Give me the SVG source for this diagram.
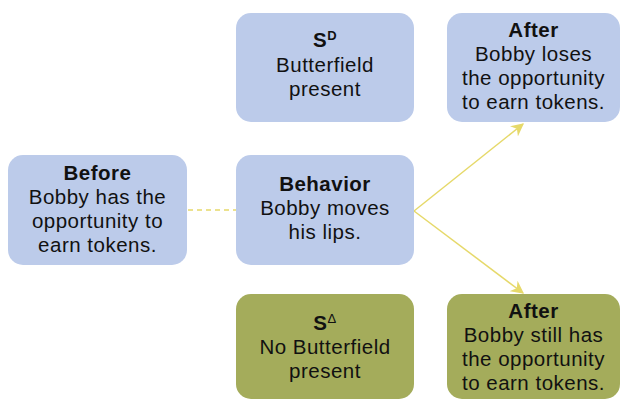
<svg xmlns="http://www.w3.org/2000/svg" width="621" height="400" viewBox="0 0 621 400">
  <defs>
    <style>
      .box-blue { fill: #bccbea; }
      .box-olive { fill: #a4ac5b; }
      text { font-family: "Liberation Sans", Arial, sans-serif; font-size: 20.5px; letter-spacing: 0.5px; fill: #111; text-anchor: middle; }
      .b { font-weight: bold; }
      .sup { font-size: 13px; }
      .link { stroke: #e6d96a; stroke-width: 1.5; fill: none; }
    </style>
    <marker id="arrow" viewBox="0 0 10 10" refX="9" refY="5" markerWidth="13" markerHeight="13" orient="auto" markerUnits="userSpaceOnUse">
      <path d="M0,0 L10,5 L0,10 L3,5 Z" fill="#e6d96a"/>
    </marker>
  </defs>

  <g id="connectors">
    <line class="link" x1="188" y1="210" x2="236" y2="210" stroke-dasharray="5,4"/>
    <line class="link" x1="414" y1="211" x2="523" y2="124" marker-end="url(#arrow)"/>
    <line class="link" x1="414" y1="211" x2="523" y2="293" marker-end="url(#arrow)"/>
  </g>

  <g id="before">
    <rect class="box-blue" x="8" y="155" width="179" height="110" rx="15"/>
    <text x="97.5" y="180" class="b">Before</text>
    <text x="97.5" y="204">Bobby has the</text>
    <text x="97.5" y="228">opportunity to</text>
    <text x="97.5" y="252">earn tokens.</text>
  </g>

  <g id="sd">
    <rect class="box-blue" x="236" y="13" width="178" height="109" rx="15"/>
    <text x="325" y="47" class="b">S<tspan class="sup" dy="-7">D</tspan></text>
    <text x="325" y="72">Butterfield</text>
    <text x="325" y="96">present</text>
  </g>

  <g id="behavior">
    <rect class="box-blue" x="236" y="155" width="178" height="110" rx="15"/>
    <text x="325" y="191" class="b">Behavior</text>
    <text x="325" y="215">Bobby moves</text>
    <text x="325" y="239">his lips.</text>
  </g>

  <g id="sdelta">
    <rect class="box-olive" x="236" y="294" width="178" height="105" rx="15"/>
    <text x="325" y="330" class="b">S<tspan class="sup" dy="-7" font-weight="normal">Δ</tspan></text>
    <text x="325" y="354">No Butterfield</text>
    <text x="325" y="378">present</text>
  </g>

  <g id="after-top">
    <rect class="box-blue" x="447" y="13" width="173" height="109" rx="15"/>
    <text x="533.5" y="37" class="b">After</text>
    <text x="533.5" y="61">Bobby loses</text>
    <text x="533.5" y="85">the opportunity</text>
    <text x="533.5" y="109">to earn tokens.</text>
  </g>

  <g id="after-bottom">
    <rect class="box-olive" x="447" y="294" width="173" height="105" rx="15"/>
    <text x="533.5" y="318" class="b">After</text>
    <text x="533.5" y="342">Bobby still has</text>
    <text x="533.5" y="366">the opportunity</text>
    <text x="533.5" y="390">to earn tokens.</text>
  </g>
</svg>
